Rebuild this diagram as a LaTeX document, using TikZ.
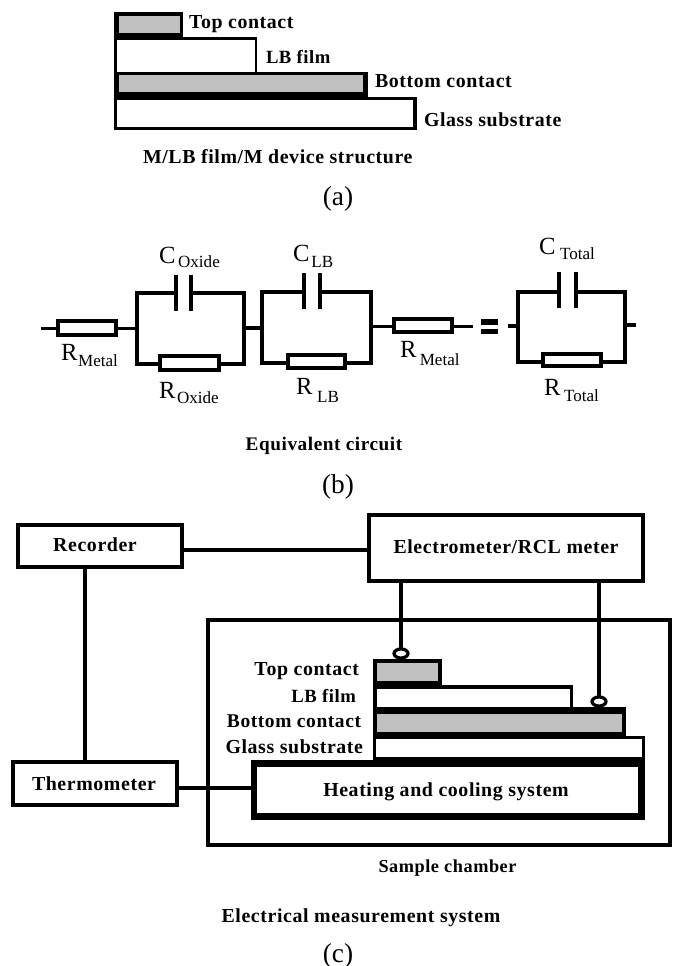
\documentclass[tikz,border=0pt]{standalone}
\usepackage{fontspec}
\setmainfont{Liberation Serif}
\newfontfamily\blfont[LetterSpace=3]{Liberation Serif Bold}
\usetikzlibrary{shapes.geometric}
\definecolor{lgrey}{RGB}{192,192,192}
\newcommand\bl[1]{{\fontsize{14.9}{16}\blfont #1}}
\newcommand\bls[2]{{\fontsize{#1}{16}\blfont #2}}
% circuit label: letter, gap, subscript, sub drop
\newcommand\lbl[4]{{\fontsize{18.5}{20}\selectfont #1}\hspace{#2pt}\raisebox{-#4pt}{\fontsize{12.8}{14}\selectfont #3}}
% layer: solid rectangle given by pixel corners
\newcommand\layer[5]{\fill[#5] (#1,#2) rectangle (#3,#4);}
% box node by pixel corners of the stroke centre
\newcommand\bx[6]{\pgfmathsetmacro\cxa{(#2+#4)/2}\pgfmathsetmacro\cya{(#3+#5)/2}\pgfmathsetmacro\wa{(#4-#2)*0.75}\pgfmathsetmacro\ha{(#5-#3)*0.75}\node[#6,minimum width=\wa pt,minimum height=\ha pt] (#1) at (\cxa,\cya) {};}
\tikzset{
  wire/.style={line width=2.8pt,line cap=rect,line join=miter},
  thinwire/.style={line width=2.6pt},
  res/.style={draw,fill=white,line width=2.8pt,inner sep=0pt,outer sep=0pt},
  plate/.style={line width=2.6pt},
  sysbox/.style={draw,fill=white,line width=3pt,inner sep=0pt,outer sep=0pt},
  heatbox/.style={draw,fill=white,line width=4.8pt,inner sep=0pt,outer sep=0pt},
  probe/.style={ellipse,draw,fill=white,line width=2.4pt,inner sep=0pt,outer sep=0pt,minimum width=10.5pt,minimum height=6.8pt},
  lab/.style={inner sep=0pt,outer sep=0pt,anchor=base west},
  labr/.style={inner sep=0pt,outer sep=0pt,anchor=base east},
  labc/.style={inner sep=0pt,outer sep=0pt,anchor=base},
  figcap/.style={inner sep=0pt,outer sep=0pt,anchor=base,font=\fontsize{20.5}{22}\selectfont},
}
\begin{document}
\begin{tikzpicture}[x=0.75pt,y=-0.75pt]
\useasboundingbox (0,0) rectangle (674,966);
\fill[white] (0,0) rectangle (674,966);
% ---------- (a)
\layer{114}{12}{183}{40}{black}
\layer{119}{16}{180}{33}{lgrey}
\layer{114}{37}{257}{75}{black}
\layer{117}{40}{255}{72}{white}
\layer{114}{72}{368}{100}{black}
\layer{119}{75}{363}{92}{lgrey}
\layer{114}{97}{417}{130}{black}
\layer{117}{100}{413}{127}{white}
\node[lab] (ta1) at (189,29) {\bl{Top contact}};
\node[lab] (ta2) at (266,64) {\bls{14}{LB film}};
\node[lab] (ta3) at (375,88) {\bl{Bottom contact}};
\node[lab] (ta4) at (424,127) {\bl{Glass substrate}};
\node[lab] (ta5) at (143,164) {\bl{M/LB film/M device structure}};
\node[figcap] (capa) at (338,205) {(a)};
% ---------- (b)
\coordinate (l1) at (41,328.5);
\coordinate (j1) at (137,328.5);
\coordinate (j1t) at (137,293);
\coordinate (j1b) at (137,364);
\coordinate (j2) at (244,328);
\coordinate (j2t) at (244,293);
\coordinate (j2b) at (244,364);
\coordinate (p1a) at (176,293);
\coordinate (p1b) at (191,293);
\coordinate (j3) at (262,328);
\coordinate (j3t) at (262,292);
\coordinate (j3b) at (262,363);
\coordinate (j4) at (371,326.5);
\coordinate (j4t) at (371,292);
\coordinate (j4b) at (371,363);
\coordinate (p2a) at (304,292);
\coordinate (p2b) at (320,292);
\coordinate (l2) at (473,326.5);
\coordinate (l3) at (508,326);
\coordinate (j5) at (518,326);
\coordinate (j5t) at (518,292);
\coordinate (j5b) at (518,362);
\coordinate (j6) at (625,325);
\coordinate (j6t) at (625,292);
\coordinate (j6b) at (625,362);
\coordinate (l4) at (636,325);
\coordinate (p3a) at (559,292);
\coordinate (p3b) at (576,292);
\draw[wire,line cap=butt] (l1) -- (j1);
\draw[wire] (p1a) -- (j1t) -- (j1b) -- (j2b) -- (j2t) -- (p1b);
\draw[wire] (j2) -- (j3);
\draw[wire] (p2a) -- (j3t) -- (j3b) -- (j4b) -- (j4t) -- (p2b);
\draw[wire,line cap=butt] (j4) -- (l2);
\draw[wire,line cap=butt] (l3) -- (j5);
\draw[wire] (p3a) -- (j5t) -- (j5b) -- (j6b) -- (j6t) -- (p3b);
\draw[wire,line cap=butt] (j6) -- (l4);
\draw[plate] (176,275) -- (176,311);
\draw[plate] (191,275) -- (191,311);
\draw[plate] (304,273) -- (304,309);
\draw[plate] (320,273) -- (320,309);
\draw[plate] (559,272) -- (559,308);
\draw[plate] (576,272) -- (576,308);
\bx{r1}{58}{321}{116}{335}{res}
\bx{r2}{160}{356}{219}{370}{res}
\bx{r3}{288}{355}{345}{368}{res}
\bx{r4}{394}{319}{452}{332}{res}
\bx{r5}{543}{354}{601}{366}{res}
\fill (481,319) rectangle (498,325);
\fill (481,329) rectangle (498,334);
\node[lab] (lb1) at (61,360) {\lbl{R}{0.5}{Metal}{5.2}};
\node[lab] (lb2) at (159,263) {\lbl{C}{2}{Oxide}{3}};
\node[lab] (lb3) at (159,398) {\lbl{R}{1.2}{Oxide}{3.8}};
\node[lab] (lb4) at (293,261) {\lbl{C}{1.5}{LB}{4.5}};
\node[lab] (lb5) at (296,394) {\lbl{R}{3.5}{LB}{6}};
\node[lab] (lb6) at (400,357) {\lbl{R}{2.5}{Metal}{6}};
\node[lab] (lb7) at (539,254) {\lbl{C}{3.5}{Total}{3.8}};
\node[lab] (lb8) at (544,395) {\lbl{R}{2.7}{Total}{5.2}};
\node[labc] (tb) at (324,450) {\bls{14.4}{Equivalent circuit}};
\node[figcap] (capb) at (338,493) {(b)};
% ---------- (c)
\bx{cham}{208}{620}{670}{845}{sysbox}
\bx{rec}{18}{525}{182}{567}{sysbox}
\bx{ele}{369}{515}{643}{581}{sysbox}
\bx{thm}{13}{762}{177}{805}{sysbox}
\draw[thinwire] (rec.east |- 0,550) -- (ele.west |- 0,550);
\draw[thinwire] (rec.south -| 85,0) -- (thm.north -| 85,0);
\layer{373}{659}{442}{690}{black}
\layer{377}{663}{438}{681}{lgrey}
\layer{373}{685}{573}{712}{black}
\layer{377}{689}{570}{707}{white}
\layer{373}{707}{626}{740}{black}
\layer{377}{714}{622}{732}{lgrey}
\layer{373}{736}{645}{762}{black}
\layer{376}{739}{642}{757}{white}
\bx{heat}{254}{763.5}{641.5}{816.5}{heatbox}
\draw[thinwire] (thm.east |- 0,788) -- (heat.west |- 0,788);
\node[probe] (pt) at (401,653.5) {};
\node[probe] (pb) at (599,701.5) {};
\draw[thinwire] (pt.north |- ele.south) -- (pt.north);
\draw[thinwire] (pb.north |- ele.south) -- (pb.north);
\node[labc] (t1) at (95,551) {\bl{Recorder}};
\node[labc] (t2) at (506,553) {\bl{Electrometer/RCL meter}};
\node[labc] (t3) at (94,790) {\bl{Thermometer}};
\node[labr] (t4) at (359,675) {\bl{Top contact}};
\node[labr] (t5) at (356,702) {\bls{14}{LB film}};
\node[labr] (t6) at (361,727) {\bls{14.6}{Bottom contact}};
\node[labr] (t7) at (363,753) {\bl{Glass substrate}};
\node[labc] (t8) at (446,796) {\bl{Heating and cooling system}};
\node[labc] (t9) at (447.5,872) {\bls{13.7}{Sample chamber}};
\node[labc] (t10) at (361,922) {\bl{Electrical measurement system}};
\node[figcap] (capc) at (338,962) {(c)};
\end{tikzpicture}
\end{document}
